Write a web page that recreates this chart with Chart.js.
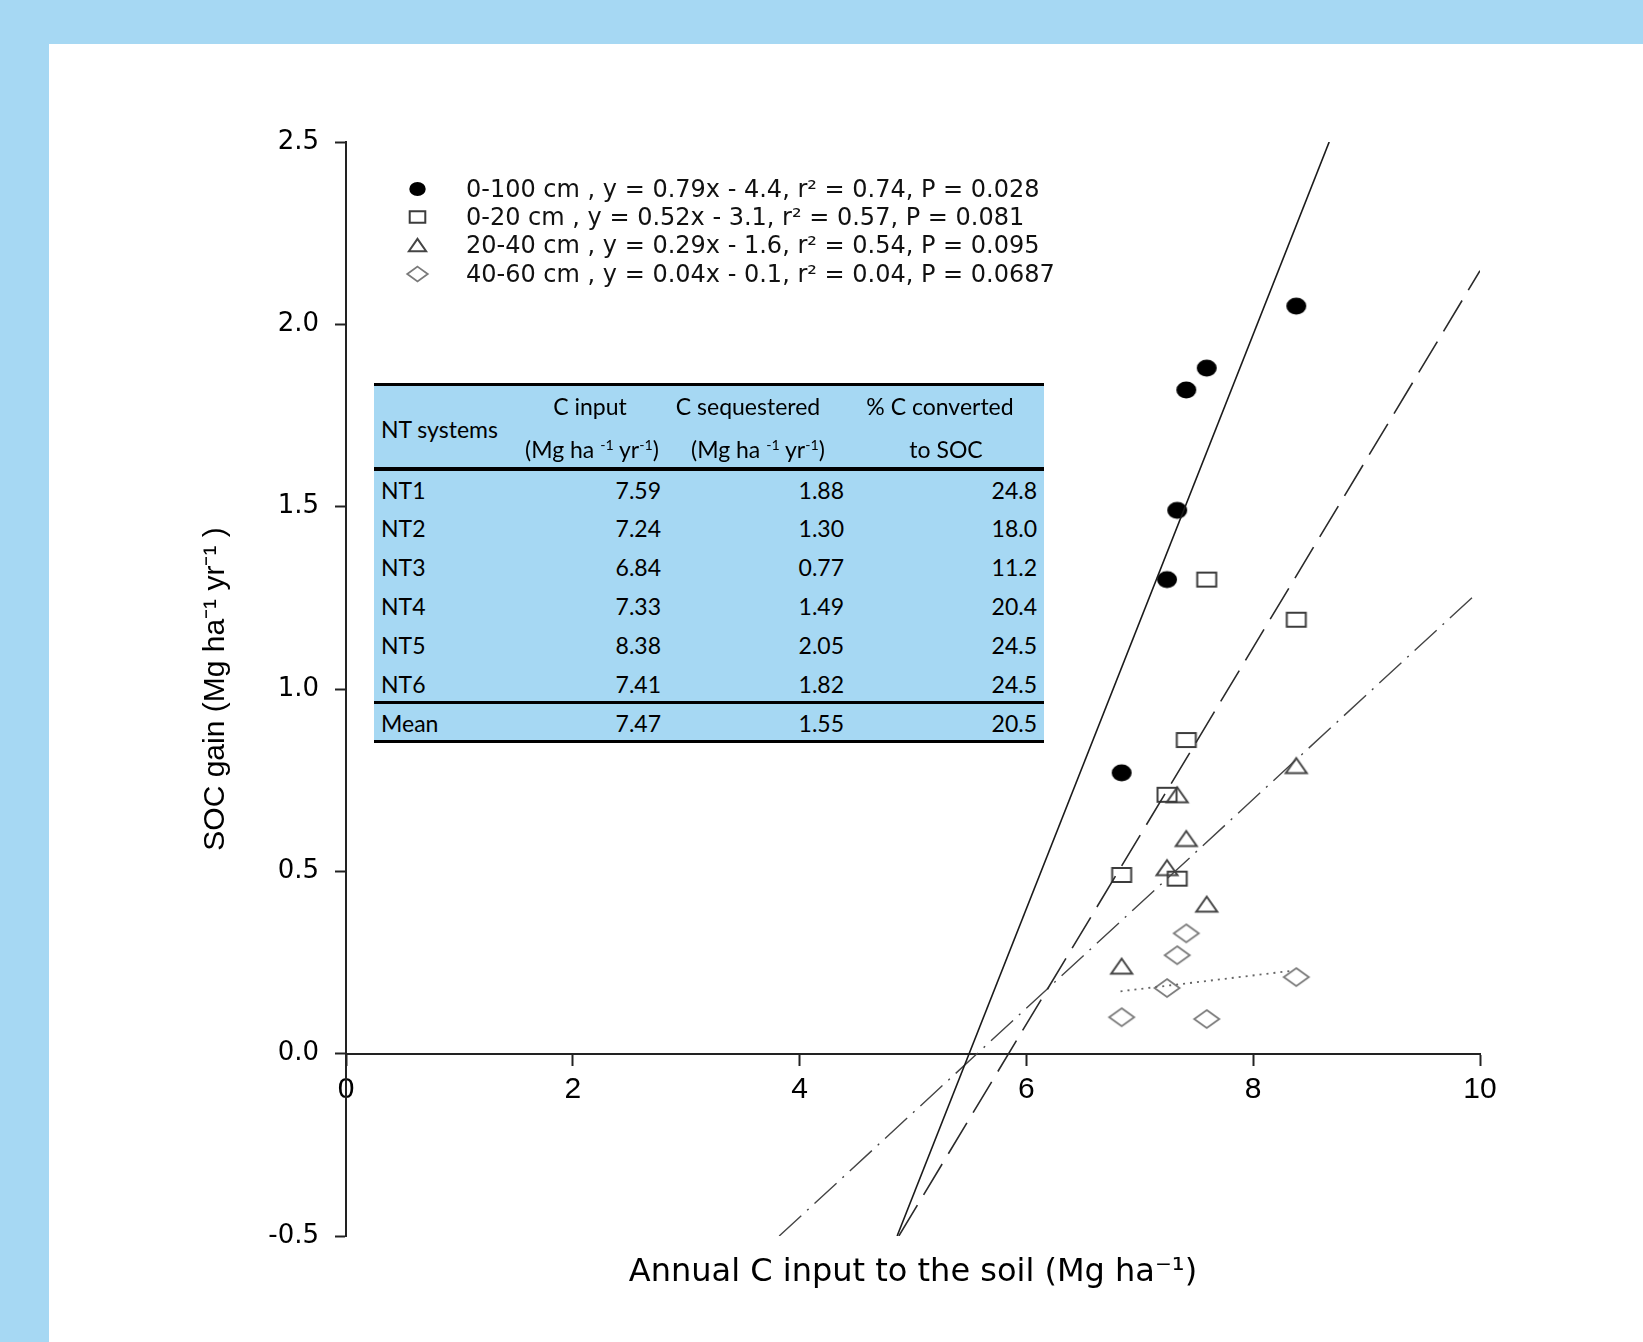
<!DOCTYPE html>
<html><head><meta charset="utf-8">
<script src="https://cdn.jsdelivr.net/npm/chart.js@4.4.0/dist/chart.umd.min.js"></script>
<style>
html,body{margin:0;padding:0;}
body{width:1643px;height:1342px;background:#A6D8F3;position:relative;overflow:hidden;font-family:"DejaVu Sans",sans-serif;}
#panel{position:absolute;left:49px;top:44px;right:0;bottom:0;background:#fff;}
#chart{position:absolute;left:0;top:0;}
.legrow{position:absolute;left:0;height:30px;}
.legrow canvas{position:absolute;}
.legrow span{position:absolute;left:466px;top:0;height:30px;line-height:30px;white-space:nowrap;font-family:"DejaVu Sans",sans-serif;font-size:24px;color:#111;}
#tbl{position:absolute;left:374px;top:383px;width:670px;height:360px;background:#A6D8F3;font-family:Lato,"Noto Sans",sans-serif;font-size:23px;color:#000;}
#tbl .rule{position:absolute;left:0;width:670px;background:#000;}
#tbl .cell{position:absolute;height:30px;line-height:30px;white-space:nowrap;}
#tbl sup{font-size:0.62em;vertical-align:0.55em;line-height:0;}
</style></head><body>
<div id="panel"></div>
<canvas id="chart" width="1643" height="1342"></canvas>
<div id="legend"></div>
<div id="tbl"></div>
<script>
// ---------- data ----------
const ntSystems     = ['NT1','NT2','NT3','NT4','NT5','NT6'];
const cInput        = [7.59, 7.24, 6.84, 7.33, 8.38, 7.41];
const cSequestered  = [1.88, 1.30, 0.77, 1.49, 2.05, 1.82];
const pctConverted  = [24.8, 18.0, 11.2, 20.4, 24.5, 24.5];
const meanLabel     = 'Mean';
const meanValues    = [7.47, 1.55, 20.5];

// SOC gain per depth (same x = C input order NT1..NT6)
const soc0to100 = [1.88, 1.30, 0.77, 1.49, 2.05, 1.82];
const soc0to20  = [1.30, 0.71, 0.49, 0.48, 1.19, 0.86];
const soc20to40 = [0.41, 0.51, 0.24, 0.71, 0.79, 0.59];
const soc40to60 = [0.095, 0.18, 0.10, 0.27, 0.21, 0.33];

// regression line end points
const fit0to100X = [4.86, 8.67],  fit0to100Y = [-0.5, 2.5];
const fit0to20X  = [4.875, 10.0], fit0to20Y  = [-0.5, 2.147];
const fit20to40X = [3.82, 9.97],  fit20to40Y = [-0.5, 1.262];
const fit40to60X = [6.83, 8.36],  fit40to60Y = [0.171, 0.228];

const legendLabels = [
  '0-100 cm , y = 0.79x - 4.4, r² = 0.74, P = 0.028',
  '0-20 cm , y = 0.52x - 3.1, r² = 0.57, P = 0.081',
  '20-40 cm , y = 0.29x - 1.6, r² = 0.54, P = 0.095',
  '40-60 cm , y = 0.04x - 0.1, r² = 0.04, P = 0.0687'
];
const xTickValues = [0, 2, 4, 6, 8, 10];
const yTickValues = [-0.5, 0.0, 0.5, 1.0, 1.5, 2.0, 2.5];
const xTitle = 'Annual C input to the soil (Mg ha⁻¹)';
const yTitle = 'SOC gain (Mg ha⁻¹ yr⁻¹ )';

// ---------- marker images ----------
function marker(kind, s) {
  s = s || 1;
  const c = document.createElement('canvas');
  c.width = Math.ceil(30 * s); c.height = Math.ceil(24 * s);
  const g = c.getContext('2d');
  const cx = c.width / 2, cy = c.height / 2;
  g.lineJoin = 'miter';
  if (kind === 'circle') {
    g.fillStyle = '#000';
    g.beginPath(); g.ellipse(cx, cy, 10 * s, 8.5 * s, 0, 0, Math.PI * 2); g.fill();
  } else if (kind === 'square') {
    g.strokeStyle = '#3c3c3c'; g.lineWidth = 2;
    g.strokeRect(cx - 9.5 * s, cy - 7 * s, 19 * s, 14 * s);
  } else if (kind === 'triangle') {
    g.strokeStyle = '#454545'; g.lineWidth = 2;
    g.beginPath(); g.moveTo(cx, cy - 7.5 * s); g.lineTo(cx + 10.5 * s, cy + 7.5 * s);
    g.lineTo(cx - 10.5 * s, cy + 7.5 * s); g.closePath(); g.stroke();
  } else {
    g.strokeStyle = '#7a7a7a'; g.lineWidth = 1.8;
    g.beginPath(); g.moveTo(cx, cy - 9 * s); g.lineTo(cx + 12.5 * s, cy);
    g.lineTo(cx, cy + 9 * s); g.lineTo(cx - 12.5 * s, cy); g.closePath(); g.stroke();
  }
  return c;
}
const kinds = ['circle', 'square', 'triangle', 'diamond'];

function pts(xs, ys) { return xs.map((x, i) => ({x: x, y: ys[i]})); }

const pointSets = [soc0to100, soc0to20, soc20to40, soc40to60];
const fitSets = [[fit0to100X, fit0to100Y], [fit0to20X, fit0to20Y], [fit20to40X, fit20to40Y], [fit40to60X, fit40to60Y]];
const fitStyles = [
  {borderColor: '#1a1a1a', borderWidth: 1.6, borderDash: []},
  {borderColor: '#2a2a2a', borderWidth: 1.6, borderDash: [36, 12]},
  {borderColor: '#444444', borderWidth: 1.4, borderDash: [30, 8, 2, 8]},
  {borderColor: '#666666', borderWidth: 1.8, borderDash: [2, 5]}
];

const datasets = [];
fitSets.forEach((f, i) => {
  datasets.push(Object.assign({
    label: legendLabels[i] + ' fit',
    data: pts(f[0], f[1]),
    showLine: true, pointRadius: 0, fill: false, xAxisID: 'x', yAxisID: 'y'
  }, fitStyles[i]));
});
pointSets.forEach((ys, i) => {
  datasets.push({
    label: legendLabels[i],
    data: pts(cInput, ys),
    showLine: false, pointStyle: marker(kinds[i]), pointRadius: 10,
    xAxisID: 'x', yAxisID: 'y'
  });
});

new Chart(document.getElementById('chart'), {
  type: 'scatter',
  data: {datasets: datasets},
  options: {
    responsive: false, animation: false, devicePixelRatio: 1,
    layout: {padding: {left: 0, top: 142, right: 163, bottom: 0}},
    plugins: {legend: {display: false}, tooltip: {enabled: false}},
    scales: {
      x: {
        type: 'linear', axis: 'x', position: {y: 0}, min: 0, max: 10,
        afterBuildTicks: s => { s.ticks = xTickValues.map(v => ({value: v})); },
        ticks: {callback: v => String(v), font: {family: 'Liberation Sans', size: 30}, color: '#000', padding: 7, maxRotation: 0, autoSkip: false},
        grid: {drawOnChartArea: false, drawTicks: true, tickLength: 11, tickColor: '#222', tickWidth: 2},
        border: {display: true, color: '#222', width: 2}
      },
      x2: {
        type: 'linear', axis: 'x', position: 'bottom', min: 0, max: 10,
        ticks: {display: false}, grid: {display: false}, border: {display: false},
        title: {display: true, text: xTitle, font: {family: 'DejaVu Sans', size: 32}, color: '#000', padding: {top: 0, bottom: 50}},
        afterFit: s => { s.height = 106; }
      },
      y: {
        type: 'linear', position: 'left', min: -0.5, max: 2.5,
        afterBuildTicks: s => { s.ticks = yTickValues.map(v => ({value: v})); },
        ticks: {callback: v => Number(v).toFixed(1), font: {family: 'DejaVu Sans', size: 26}, color: '#000', padding: 16, autoSkip: false},
        grid: {drawOnChartArea: false, drawTicks: true, tickLength: 11, tickColor: '#222', tickWidth: 2},
        border: {display: true, color: '#222', width: 2},
        title: {display: true, text: yTitle, font: {family: 'Liberation Sans', size: 30}, color: '#000', padding: {top: 198, bottom: 0}},
        afterFit: s => { s.width = 346; }
      }
    }
  }
});

// ---------- legend (HTML) ----------
const legend = document.getElementById('legend');
const legRowY = [188.6, 217, 245.3, 273.6];
legendLabels.forEach((t, i) => {
  const row = document.createElement('div');
  row.className = 'legrow';
  row.style.top = (legRowY[i] - 15) + 'px';
  const m = marker(kinds[i], 0.82);
  m.style.left = (417 - m.width / 2) + 'px';
  m.style.top = (15 - m.height / 2) + 'px';
  row.appendChild(m);
  const sp = document.createElement('span');
  sp.textContent = t;
  row.appendChild(sp);
  legend.appendChild(row);
});

// ---------- table (HTML) ----------
const tbl = document.getElementById('tbl');
function rule(top, h) {
  const d = document.createElement('div'); d.className = 'rule';
  d.style.top = top + 'px'; d.style.height = h + 'px'; tbl.appendChild(d);
}
function cell(html, cy, opts) {
  const d = document.createElement('div'); d.className = 'cell';
  d.innerHTML = html; d.style.top = (cy - 15) + 'px';
  if (opts.left != null) { d.style.left = opts.left + 'px'; }
  if (opts.right != null) { d.style.left = '0px'; d.style.width = opts.right + 'px'; d.style.textAlign = 'right'; }
  if (opts.center != null) { d.style.left = (opts.center - 150) + 'px'; d.style.width = '300px'; d.style.textAlign = 'center'; }
  tbl.appendChild(d);
}
rule(0, 3); rule(84, 4); rule(318, 3); rule(357, 3);
cell('NT systems', 46, {left: 7});
cell('C input', 23, {center: 216});
cell('(Mg ha <sup>-1</sup> yr<sup>-1</sup>)', 66, {center: 218});
cell('C sequestered', 23, {center: 374});
cell('(Mg ha <sup>-1</sup> yr<sup>-1</sup>)', 66, {center: 384});
cell('% C converted', 23, {center: 566});
cell('to SOC', 66, {center: 572});
const colRight = [287, 470, 663];
ntSystems.forEach((n, i) => {
  const cy = 106.5 + i * 38.8;
  cell(n, cy, {left: 7});
  cell(cInput[i].toFixed(2), cy, {right: colRight[0]});
  cell(cSequestered[i].toFixed(2), cy, {right: colRight[1]});
  cell(pctConverted[i].toFixed(1), cy, {right: colRight[2]});
});
cell(meanLabel, 340, {left: 7});
cell(meanValues[0].toFixed(2), 340, {right: colRight[0]});
cell(meanValues[1].toFixed(2), 340, {right: colRight[1]});
cell(meanValues[2].toFixed(1), 340, {right: colRight[2]});
</script>
</body></html>
